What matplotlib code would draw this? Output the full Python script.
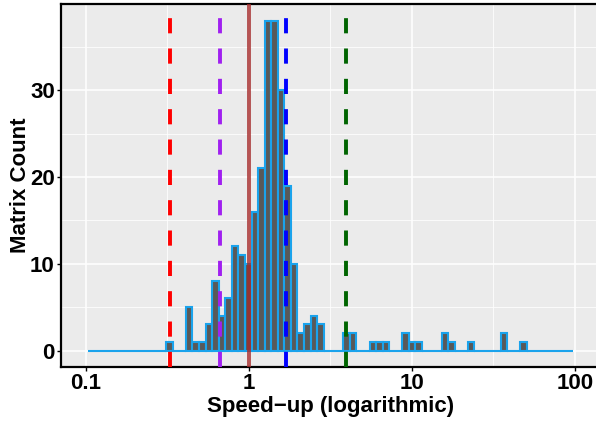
import matplotlib.pyplot as plt
import numpy as np

# histogram of speed-ups, log10 bins
bin_lo = -0.988
bin_hi = 1.986
counts = [0, 0, 0, 0, 0, 0, 0, 0, 0, 0, 0, 0,
          1, 0, 0, 5, 1, 1, 3, 8, 4, 6, 12, 11, 10, 16, 21, 38, 38, 30,
          19, 10, 2, 3, 4, 3, 0, 0, 0, 2, 2, 0, 0, 1, 1, 1, 0, 0,
          2, 1, 1, 0, 0, 0, 2, 1, 0, 0, 1, 0, 0, 0, 0, 2, 0, 0,
          1, 0, 0, 0, 0, 0, 0, 0]

vlines = [0.33, 0.67, 1.0, 1.68, 3.95]
vline_colors = ['#FF0000', '#A020F0', '#A52A2A', '#0000FF', '#006400']
vline_dashed = [True, True, False, True, True]

xticks = [0.1, 1, 10, 100]
xticklabels = ['0.1', '1', '10', '100']
yticks = [0, 10, 20, 30]

plt.rcParams['font.family'] = ['Liberation Sans', 'DejaVu Sans']
plt.rcParams['font.weight'] = 'bold'

fig = plt.figure(figsize=(5.96, 4.23), dpi=100)
ax = fig.add_axes([61 / 596, 56 / 423, 538.7 / 596, 362.7 / 423])
ax.set_facecolor('#EBEBEB')

edges = np.linspace(bin_lo, bin_hi, len(counts) + 1)
left = 10 ** edges[:-1]
right = 10 ** edges[1:]
ax.bar(left, counts, width=right - left, align='edge', color='#595959',
       edgecolor='#1AA3EC', linewidth=1.5, zorder=2)

for v, c, d in zip(vlines, vline_colors, vline_dashed):
    if d:
        ax.axvline(v, color=c, lw=2.8, ls=(0, (3.9, 3.9)), zorder=3)
    else:
        ax.axvline(v, color=c, lw=2.8, alpha=0.8, zorder=3)

ax.set_xscale('log')
ax.set_xlim(10 ** -1.151, 10 ** 2.151)
ax.set_ylim(-1.9, 39.9)

ax.set_xticks(xticks)
ax.set_xticklabels(xticklabels)
ax.set_xticks([10 ** -0.5, 10 ** 0.5, 10 ** 1.5], minor=True)
ax.set_yticks(yticks)
ax.set_yticks([5, 15, 25, 35], minor=True)
ax.tick_params(which='minor', length=0)
ax.tick_params(which='major', length=3, width=1, color='black', pad=1.5,
               labelsize=16, labelcolor='black')

ax.grid(which='major', color='white', lw=1.1, zorder=0)
ax.grid(which='minor', color='white', lw=0.55, zorder=0)
ax.set_axisbelow(True)

for s in ['left', 'bottom', 'top']:
    ax.spines[s].set_color('black')
    ax.spines[s].set_linewidth(1.6)
ax.spines['right'].set_visible(False)

ax.set_xlabel('Speed\u2212up (logarithmic)', fontsize=16, fontweight='bold', labelpad=1)
ax.set_ylabel('Matrix Count', fontsize=16, fontweight='bold', labelpad=-1)

fig.savefig('out.png', dpi=100)
